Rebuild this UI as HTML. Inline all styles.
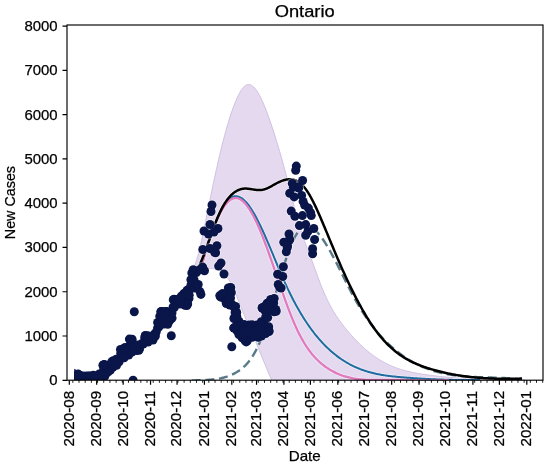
<!DOCTYPE html>
<html><head><meta charset="utf-8"><style>
html,body{margin:0;padding:0;background:#fff;width:550px;height:469px;overflow:hidden}
svg{position:absolute;left:0;top:0;will-change:transform}
text{font-family:"Liberation Sans", sans-serif;fill:#000;stroke:#000;stroke-width:0.25px}
</style></head><body>
<svg width="550" height="469" viewBox="0 0 550 469">
<defs><clipPath id="ax"><rect x="67.0" y="25.0" width="476.0" height="355.2"/></clipPath><clipPath id="dc"><rect x="74.1" y="25" width="470" height="355.2"/></clipPath></defs>

<g clip-path="url(#ax)">
<path d="M192.60,268.67 L193.60,267.27 L194.60,265.33 L195.60,262.91 L196.60,260.04 L197.61,256.76 L198.61,253.12 L199.61,249.17 L200.61,244.94 L201.61,240.48 L202.61,235.84 L203.61,231.04 L204.61,226.15 L205.62,221.20 L206.62,216.23 L207.62,211.28 L208.62,206.36 L209.62,201.46 L210.62,196.59 L211.62,191.76 L212.62,186.98 L213.63,182.26 L214.63,177.58 L215.63,172.98 L216.63,168.44 L217.63,163.98 L218.63,159.60 L219.63,155.30 L220.63,151.10 L221.63,147.00 L222.64,143.00 L223.64,139.11 L224.64,135.33 L225.64,131.66 L226.64,128.10 L227.64,124.65 L228.64,121.32 L229.64,118.11 L230.65,115.01 L231.65,112.03 L232.65,109.17 L233.65,106.44 L234.65,103.84 L235.65,101.37 L236.65,99.03 L237.65,96.82 L238.66,94.77 L239.66,92.87 L240.66,91.14 L241.66,89.59 L242.66,88.23 L243.66,87.06 L244.66,86.11 L245.66,85.37 L246.67,84.85 L247.67,84.56 L248.67,84.47 L249.67,84.59 L250.67,84.92 L251.67,85.43 L252.67,86.13 L253.67,87.01 L254.67,88.06 L255.68,89.28 L256.68,90.66 L257.68,92.19 L258.68,93.86 L259.68,95.68 L260.68,97.63 L261.68,99.70 L262.68,101.90 L263.69,104.21 L264.69,106.62 L265.69,109.14 L266.69,111.75 L267.69,114.44 L268.69,117.22 L269.69,120.07 L270.69,122.98 L271.70,125.96 L272.70,129.00 L273.70,132.10 L274.70,135.24 L275.70,138.43 L276.70,141.67 L277.70,144.95 L278.70,148.29 L279.70,151.68 L280.71,155.13 L281.71,158.63 L282.71,162.20 L283.71,165.82 L284.71,169.52 L285.71,173.27 L286.71,177.10 L287.71,181.00 L288.72,184.94 L289.72,188.91 L290.72,192.90 L291.72,196.89 L292.72,200.86 L293.72,204.79 L294.72,208.68 L295.72,212.49 L296.73,216.21 L297.73,219.83 L298.73,223.33 L299.73,226.70 L300.73,229.92 L301.73,233.01 L302.73,235.98 L303.73,238.86 L304.73,241.66 L305.74,244.39 L306.74,247.06 L307.74,249.71 L308.74,252.34 L309.74,254.96 L310.74,257.60 L311.74,260.27 L312.74,262.97 L313.75,265.71 L314.75,268.45 L315.75,271.20 L316.75,273.94 L317.75,276.67 L318.75,279.36 L319.75,282.02 L320.75,284.62 L321.76,287.16 L322.76,289.63 L323.76,292.01 L324.76,294.31 L325.76,296.53 L326.76,298.68 L327.76,300.75 L328.76,302.75 L329.77,304.68 L330.77,306.55 L331.77,308.36 L332.77,310.10 L333.77,311.79 L334.77,313.43 L335.77,315.01 L336.77,316.55 L337.77,318.04 L338.78,319.49 L339.78,320.91 L340.78,322.28 L341.78,323.63 L342.78,324.94 L343.78,326.22 L344.78,327.48 L345.78,328.72 L346.79,329.94 L347.79,331.14 L348.79,332.33 L349.79,333.49 L350.79,334.63 L351.79,335.76 L352.79,336.86 L353.79,337.95 L354.80,339.02 L355.80,340.07 L356.80,341.10 L357.80,342.12 L358.80,343.11 L359.80,344.09 L360.80,345.05 L361.80,345.99 L362.80,346.91 L363.81,347.82 L364.81,348.70 L365.81,349.57 L366.81,350.42 L367.81,351.25 L368.81,352.07 L369.81,352.87 L370.81,353.65 L371.82,354.41 L372.82,355.16 L373.82,355.89 L374.82,356.60 L375.82,357.29 L376.82,357.97 L377.82,358.63 L378.82,359.27 L379.83,359.90 L380.83,360.51 L381.83,361.10 L382.83,361.68 L383.83,362.23 L384.83,362.78 L385.83,363.30 L386.83,363.81 L387.83,364.31 L388.84,364.79 L389.84,365.25 L390.84,365.70 L391.84,366.13 L392.84,366.55 L393.84,366.95 L394.84,367.34 L395.84,367.72 L396.85,368.08 L397.85,368.43 L398.85,368.77 L399.85,369.10 L400.85,369.42 L401.85,369.72 L402.85,370.02 L403.85,370.30 L404.86,370.57 L405.86,370.84 L406.86,371.09 L407.86,371.34 L408.86,371.58 L409.86,371.80 L410.86,372.02 L411.86,372.24 L412.87,372.44 L413.87,372.64 L414.87,372.84 L415.87,373.02 L416.87,373.20 L417.87,373.38 L418.87,373.55 L419.87,373.71 L420.87,373.88 L421.88,374.03 L422.88,374.19 L423.88,374.34 L424.88,374.48 L425.88,374.63 L426.88,374.77 L427.88,374.91 L428.88,375.05 L429.89,375.18 L430.89,375.31 L431.89,375.44 L432.89,375.57 L433.89,375.70 L434.89,375.82 L435.89,375.94 L436.89,376.05 L437.90,376.17 L438.90,376.28 L439.90,376.39 L440.90,376.50 L441.90,376.61 L442.90,376.71 L443.90,376.81 L444.90,376.91 L445.90,377.01 L446.91,377.10 L447.91,377.20 L448.91,377.29 L449.91,377.38 L450.91,377.46 L451.91,377.55 L452.91,377.63 L453.91,377.71 L454.92,377.79 L455.92,377.87 L456.92,377.95 L457.92,378.02 L458.92,378.09 L459.92,378.16 L460.92,378.23 L461.92,378.30 L462.93,378.36 L463.93,378.42 L464.93,378.49 L465.93,378.55 L466.93,378.61 L467.93,378.66 L468.93,378.72 L469.93,378.77 L470.93,378.82 L471.94,378.88 L472.94,378.92 L473.94,378.97 L474.94,379.02 L475.94,379.07 L476.94,379.11 L477.94,379.15 L478.94,379.19 L479.95,379.23 L480.95,379.27 L481.95,379.31 L482.95,379.35 L483.95,379.38 L484.95,379.42 L485.95,379.45 L486.95,379.48 L487.96,379.52 L488.96,379.55 L489.96,379.57 L490.96,379.60 L491.96,379.63 L492.96,379.66 L493.96,379.68 L494.96,379.71 L495.97,379.73 L496.97,379.76 L497.97,379.78 L498.97,379.80 L499.97,379.82 L500.97,379.84 L501.97,379.86 L502.97,379.88 L503.97,379.90 L504.98,379.92 L505.98,379.93 L506.98,379.95 L507.98,379.97 L508.98,379.98 L509.98,380.00 L510.98,380.01 L511.98,380.03 L512.99,380.04 L513.99,380.05 L514.99,380.07 L515.99,380.08 L516.99,380.09 L517.99,380.11 L518.99,380.12 L519.99,380.13 L521.00,380.14 L522.00,380.15 L523.00,380.17 L524.00,380.18 L525.00,380.19 L272.00,380.68 L270.99,378.49 L269.99,376.24 L268.98,373.93 L267.98,371.59 L266.97,369.20 L265.97,366.79 L264.96,364.35 L263.96,361.89 L262.95,359.42 L261.95,356.95 L260.94,354.47 L259.94,352.01 L258.93,349.55 L257.93,347.12 L256.92,344.71 L255.92,342.33 L254.91,339.98 L253.91,337.64 L252.90,335.31 L251.90,333.00 L250.89,330.68 L249.89,328.37 L248.88,326.05 L247.88,323.73 L246.87,321.38 L245.87,319.02 L244.86,316.64 L243.86,314.23 L242.85,311.78 L241.85,309.30 L240.84,306.77 L239.84,304.20 L238.83,301.60 L237.83,299.00 L236.82,296.43 L235.82,293.92 L234.81,291.49 L233.81,289.17 L232.80,286.99 L231.80,284.96 L230.79,283.10 L229.79,281.38 L228.78,279.80 L227.78,278.37 L226.77,277.06 L225.77,275.87 L224.76,274.80 L223.76,273.83 L222.75,272.97 L221.75,272.20 L220.74,271.53 L219.74,270.93 L218.73,270.41 L217.73,269.97 L216.72,269.59 L215.72,269.28 L214.71,269.02 L213.71,268.82 L212.70,268.67 L211.70,268.57 L210.69,268.50 L209.69,268.47 L208.68,268.48 L207.68,268.51 L206.67,268.56 L205.67,268.63 L204.66,268.71 L203.66,268.80 L202.65,268.89 L201.65,268.98 L200.64,269.07 L199.64,269.15 L198.63,269.21 L197.63,269.25 L196.62,269.27 L195.62,269.26 L194.61,269.21 L193.61,269.13 L192.60,269.00 Z" fill="#e4d9ee" stroke="#cfc0e2" stroke-width="1.00"/>
<g opacity="0.45" fill="none" stroke="#fff">
<path d="M200.50,269.46 L201.50,265.81 L202.50,262.22 L203.51,258.68 L204.51,255.20 L205.51,251.79 L206.51,248.45 L207.51,245.18 L208.51,241.99 L209.52,238.87 L210.52,235.84 L211.52,232.90 L212.52,230.05 L213.52,227.30 L214.53,224.64 L215.53,222.08 L216.53,219.63 L217.53,217.29 L218.53,215.07 L219.53,212.96 L220.54,210.97 L221.54,209.09 L222.54,207.34 L223.54,205.71 L224.54,204.21 L225.54,202.83 L226.55,201.58 L227.55,200.45 L228.55,199.46 L229.55,198.59 L230.55,197.86 L231.56,197.26 L232.56,196.79 L233.56,196.46 L234.56,196.25 L235.56,196.18 L236.56,196.22 L237.57,196.38 L238.57,196.66 L239.57,197.06 L240.57,197.56 L241.57,198.17 L242.58,198.89 L243.58,199.71 L244.58,200.63 L245.58,201.64 L246.58,202.75 L247.58,203.94 L248.59,205.22 L249.59,206.59 L250.59,208.03 L251.59,209.56 L252.59,211.16 L253.59,212.82 L254.60,214.56 L255.60,216.36 L256.60,218.23 L257.60,220.15 L258.60,222.13 L259.61,224.16 L260.61,226.23 L261.61,228.36 L262.61,230.52 L263.61,232.72 L264.61,234.96 L265.62,237.23 L266.62,239.53 L267.62,241.85 L268.62,244.20 L269.62,246.56 L270.63,248.94 L271.63,251.34 L272.63,253.74 L273.63,256.15 L274.63,258.55 L275.63,260.96 L276.64,263.37 L277.64,265.76 L278.64,268.15 L279.64,270.52 L280.64,272.87 L281.65,275.21 L282.65,277.51 L283.65,279.80 L284.65,282.05 L285.65,284.26 L286.65,286.44 L287.66,288.58 L288.66,290.69 L289.66,292.76 L290.66,294.79 L291.66,296.79 L292.66,298.75 L293.67,300.68 L294.67,302.58 L295.67,304.43 L296.67,306.26 L297.67,308.05 L298.68,309.81 L299.68,311.54 L300.68,313.23 L301.68,314.89 L302.68,316.53 L303.68,318.13 L304.69,319.69 L305.69,321.23 L306.69,322.74 L307.69,324.22 L308.69,325.67 L309.70,327.09 L310.70,328.48 L311.70,329.85 L312.70,331.18 L313.70,332.49 L314.70,333.77 L315.71,335.03 L316.71,336.25 L317.71,337.46 L318.71,338.63 L319.71,339.79 L320.72,340.91 L321.72,342.02 L322.72,343.09 L323.72,344.15 L324.72,345.18 L325.72,346.19 L326.73,347.17 L327.73,348.14 L328.73,349.08 L329.73,350.00 L330.73,350.90 L331.73,351.78 L332.74,352.63 L333.74,353.47 L334.74,354.29 L335.74,355.08 L336.74,355.86 L337.75,356.62 L338.75,357.36 L339.75,358.08 L340.75,358.78 L341.75,359.46 L342.75,360.12 L343.76,360.77 L344.76,361.40 L345.76,362.01 L346.76,362.61 L347.76,363.19 L348.77,363.75 L349.77,364.30 L350.77,364.83 L351.77,365.34 L352.77,365.84 L353.77,366.32 L354.78,366.79 L355.78,367.25 L356.78,367.69 L357.78,368.12 L358.78,368.53 L359.78,368.93 L360.79,369.32 L361.79,369.69 L362.79,370.05 L363.79,370.40 L364.79,370.74 L365.80,371.06 L366.80,371.38 L367.80,371.68 L368.80,371.97 L369.80,372.25 L370.80,372.52 L371.81,372.79 L372.81,373.04 L373.81,373.28 L374.81,373.51 L375.81,373.73 L376.82,373.95 L377.82,374.15 L378.82,374.35 L379.82,374.54 L380.82,374.72 L381.82,374.89 L382.83,375.06 L383.83,375.22 L384.83,375.37 L385.83,375.52 L386.83,375.66 L387.84,375.80 L388.84,375.93 L389.84,376.05 L390.84,376.17 L391.84,376.29 L392.84,376.40 L393.85,376.51 L394.85,376.61 L395.85,376.71 L396.85,376.80 L397.85,376.90 L398.85,376.99 L399.86,377.07 L400.86,377.16 L401.86,377.24 L402.86,377.32 L403.86,377.40 L404.87,377.48 L405.87,377.56 L406.87,377.64 L407.87,377.71 L408.87,377.79 L409.87,377.86 L410.88,377.93 L411.88,378.00 L412.88,378.07 L413.88,378.14 L414.88,378.21 L415.89,378.28 L416.89,378.34 L417.89,378.41 L418.89,378.47 L419.89,378.53 L420.89,378.59 L421.90,378.65 L422.90,378.71 L423.90,378.77 L424.90,378.82 L425.90,378.88 L426.91,378.93 L427.91,378.98 L428.91,379.03 L429.91,379.08 L430.91,379.13 L431.91,379.18 L432.92,379.23 L433.92,379.27 L434.92,379.31 L435.92,379.36 L436.92,379.40 L437.92,379.44 L438.93,379.48 L439.93,379.51 L440.93,379.55 L441.93,379.58 L442.93,379.62 L443.94,379.65 L444.94,379.68 L445.94,379.71 L446.94,379.74 L447.94,379.77 L448.94,379.79 L449.95,379.82 L450.95,379.84 L451.95,379.86 L452.95,379.88 L453.95,379.90 L454.96,379.92 L455.96,379.94 L456.96,379.95 L457.96,379.97 L458.96,379.98 L459.96,379.99 L460.97,380.00 L461.97,380.01 L462.97,380.02 L463.97,380.02 L464.97,380.03 L465.97,380.03 L466.98,380.03 L467.98,380.03 L468.98,380.03 L469.98,380.03 L470.98,380.02 L471.99,380.02 L472.99,380.01 L473.99,380.01 L474.99,380.00 L475.99,379.98 L476.99,379.97 L478.00,379.96 L479.00,379.94 L480.00,379.93" stroke-width="3.60"/>
<path d="M200.50,269.81 L201.50,266.10 L202.50,262.46 L203.51,258.91 L204.51,255.44 L205.51,252.05 L206.51,248.75 L207.51,245.54 L208.52,242.41 L209.52,239.38 L210.52,236.44 L211.52,233.59 L212.52,230.84 L213.53,228.19 L214.53,225.64 L215.53,223.18 L216.53,220.83 L217.53,218.59 L218.54,216.45 L219.54,214.42 L220.54,212.50 L221.54,210.69 L222.54,208.99 L223.55,207.41 L224.55,205.94 L225.55,204.59 L226.55,203.37 L227.55,202.26 L228.56,201.28 L229.56,200.42 L230.56,199.69 L231.56,199.09 L232.56,198.62 L233.57,198.28 L234.57,198.07 L235.57,198.00 L236.57,198.05 L237.57,198.24 L238.58,198.55 L239.58,198.99 L240.58,199.54 L241.58,200.21 L242.58,201.00 L243.59,201.90 L244.59,202.91 L245.59,204.02 L246.59,205.24 L247.59,206.56 L248.60,207.98 L249.60,209.50 L250.60,211.10 L251.60,212.80 L252.60,214.59 L253.61,216.46 L254.61,218.41 L255.61,220.44 L256.61,222.55 L257.61,224.73 L258.62,226.99 L259.62,229.31 L260.62,231.70 L261.62,234.15 L262.62,236.65 L263.63,239.21 L264.63,241.82 L265.63,244.48 L266.63,247.18 L267.64,249.92 L268.64,252.69 L269.64,255.49 L270.64,258.32 L271.64,261.17 L272.65,264.05 L273.65,266.93 L274.65,269.83 L275.65,272.74 L276.65,275.65 L277.66,278.56 L278.66,281.47 L279.66,284.37 L280.66,287.25 L281.66,290.13 L282.67,292.98 L283.67,295.81 L284.67,298.61 L285.67,301.39 L286.67,304.12 L287.68,306.82 L288.68,309.48 L289.68,312.09 L290.68,314.66 L291.68,317.16 L292.69,319.62 L293.69,322.01 L294.69,324.33 L295.69,326.59 L296.69,328.77 L297.70,330.88 L298.70,332.92 L299.70,334.89 L300.70,336.79 L301.70,338.62 L302.71,340.39 L303.71,342.10 L304.71,343.75 L305.71,345.33 L306.71,346.86 L307.72,348.33 L308.72,349.74 L309.72,351.11 L310.72,352.42 L311.72,353.68 L312.73,354.89 L313.73,356.05 L314.73,357.17 L315.73,358.25 L316.73,359.28 L317.74,360.27 L318.74,361.22 L319.74,362.14 L320.74,363.02 L321.74,363.87 L322.75,364.68 L323.75,365.47 L324.75,366.22 L325.75,366.95 L326.75,367.65 L327.76,368.32 L328.76,368.97 L329.76,369.60 L330.76,370.20 L331.76,370.78 L332.77,371.34 L333.77,371.87 L334.77,372.38 L335.77,372.87 L336.77,373.34 L337.78,373.79 L338.78,374.22 L339.78,374.63 L340.78,375.01 L341.78,375.38 L342.79,375.74 L343.79,376.07 L344.79,376.39 L345.79,376.69 L346.79,376.97 L347.80,377.23 L348.80,377.48 L349.80,377.72 L350.80,377.94 L351.80,378.15 L352.81,378.34 L353.81,378.52 L354.81,378.68 L355.81,378.84 L356.81,378.98 L357.82,379.11 L358.82,379.23 L359.82,379.33 L360.82,379.43 L361.82,379.52 L362.83,379.60 L363.83,379.67 L364.83,379.73 L365.83,379.78 L366.83,379.83 L367.84,379.87 L368.84,379.90 L369.84,379.92 L370.84,379.94 L371.84,379.96 L372.85,379.97 L373.85,379.97 L374.85,379.97 L375.85,379.97 L376.85,379.97 L377.86,379.96 L378.86,379.95 L379.86,379.94 L380.86,379.92 L381.86,379.91 L382.87,379.90 L383.87,379.88 L384.87,379.87 L385.87,379.86 L386.88,379.85 L387.88,379.84 L388.88,379.83 L389.88,379.83 L390.88,379.83 L391.89,379.83 L392.89,379.84 L393.89,379.84 L394.89,379.85 L395.89,379.86 L396.90,379.88 L397.90,379.89 L398.90,379.91 L399.90,379.93 L400.90,379.95 L401.91,379.97 L402.91,379.99 L403.91,380.02 L404.91,380.04 L405.91,380.07 L406.92,380.09 L407.92,380.12 L408.92,380.14 L409.92,380.17 L410.92,380.20 L411.93,380.23 L412.93,380.25 L413.93,380.28 L414.93,380.31 L415.93,380.33 L416.94,380.36 L417.94,380.38 L418.94,380.40 L419.94,380.42 L420.94,380.44 L421.95,380.46 L422.95,380.48 L423.95,380.50 L424.95,380.51 L425.95,380.52 L426.96,380.53 L427.96,380.54 L428.96,380.55 L429.96,380.55 L430.96,380.55 L431.97,380.55 L432.97,380.54 L433.97,380.53 L434.97,380.52 L435.97,380.51 L436.98,380.49 L437.98,380.47 L438.98,380.44 L439.98,380.41 L440.98,380.38 L441.99,380.34 L442.99,380.30 L443.99,380.26 L444.99,380.21 L445.99,380.15 L447.00,380.09 L448.00,380.03 L449.00,379.96" stroke-width="3.90"/>
<path d="M198.50,267.69 L199.50,265.51 L200.50,263.21 L201.50,260.80 L202.51,258.30 L203.51,255.72 L204.51,253.07 L205.51,250.37 L206.51,247.62 L207.51,244.83 L208.52,242.03 L209.52,239.21 L210.52,236.40 L211.52,233.61 L212.52,230.84 L213.52,228.11 L214.52,225.43 L215.53,222.82 L216.53,220.28 L217.53,217.82 L218.53,215.47 L219.53,213.22 L220.53,211.10 L221.54,209.09 L222.54,207.19 L223.54,205.40 L224.54,203.72 L225.54,202.14 L226.54,200.67 L227.54,199.29 L228.55,198.02 L229.55,196.83 L230.55,195.74 L231.55,194.74 L232.55,193.82 L233.55,192.99 L234.56,192.24 L235.56,191.57 L236.56,190.97 L237.56,190.45 L238.56,190.00 L239.56,189.61 L240.57,189.29 L241.57,189.04 L242.57,188.84 L243.57,188.70 L244.57,188.62 L245.57,188.59 L246.57,188.61 L247.58,188.67 L248.58,188.77 L249.58,188.89 L250.58,189.04 L251.58,189.20 L252.58,189.36 L253.59,189.53 L254.59,189.68 L255.59,189.82 L256.59,189.94 L257.59,190.03 L258.59,190.08 L259.59,190.09 L260.60,190.05 L261.60,189.94 L262.60,189.78 L263.60,189.54 L264.60,189.25 L265.60,188.90 L266.61,188.51 L267.61,188.07 L268.61,187.60 L269.61,187.10 L270.61,186.58 L271.61,186.03 L272.61,185.48 L273.62,184.92 L274.62,184.36 L275.62,183.81 L276.62,183.27 L277.62,182.75 L278.62,182.25 L279.63,181.78 L280.63,181.34 L281.63,180.93 L282.63,180.56 L283.63,180.24 L284.63,179.95 L285.63,179.71 L286.64,179.52 L287.64,179.38 L288.64,179.30 L289.64,179.27 L290.64,179.30 L291.64,179.40 L292.65,179.56 L293.65,179.80 L294.65,180.10 L295.65,180.48 L296.65,180.94 L297.65,181.48 L298.65,182.10 L299.66,182.81 L300.66,183.61 L301.66,184.50 L302.66,185.49 L303.66,186.58 L304.66,187.76 L305.67,189.06 L306.67,190.45 L307.67,191.95 L308.67,193.55 L309.67,195.23 L310.67,197.00 L311.67,198.84 L312.68,200.76 L313.68,202.75 L314.68,204.80 L315.68,206.91 L316.68,209.07 L317.68,211.27 L318.69,213.52 L319.69,215.80 L320.69,218.11 L321.69,220.45 L322.69,222.80 L323.69,225.18 L324.70,227.56 L325.70,229.96 L326.70,232.36 L327.70,234.78 L328.70,237.19 L329.70,239.61 L330.70,242.03 L331.71,244.44 L332.71,246.85 L333.71,249.25 L334.71,251.63 L335.71,254.01 L336.71,256.37 L337.72,258.71 L338.72,261.04 L339.72,263.34 L340.72,265.63 L341.72,267.89 L342.72,270.14 L343.72,272.36 L344.73,274.57 L345.73,276.75 L346.73,278.91 L347.73,281.05 L348.73,283.17 L349.73,285.27 L350.74,287.34 L351.74,289.39 L352.74,291.41 L353.74,293.41 L354.74,295.38 L355.74,297.33 L356.74,299.26 L357.75,301.16 L358.75,303.03 L359.75,304.88 L360.75,306.70 L361.75,308.49 L362.75,310.25 L363.76,311.99 L364.76,313.70 L365.76,315.38 L366.76,317.03 L367.76,318.65 L368.76,320.24 L369.76,321.80 L370.77,323.33 L371.77,324.82 L372.77,326.29 L373.77,327.73 L374.77,329.13 L375.77,330.50 L376.78,331.84 L377.78,333.14 L378.78,334.41 L379.78,335.66 L380.78,336.87 L381.78,338.05 L382.78,339.20 L383.79,340.32 L384.79,341.41 L385.79,342.48 L386.79,343.51 L387.79,344.52 L388.79,345.50 L389.80,346.46 L390.80,347.39 L391.80,348.29 L392.80,349.17 L393.80,350.02 L394.80,350.85 L395.80,351.66 L396.81,352.45 L397.81,353.21 L398.81,353.95 L399.81,354.67 L400.81,355.37 L401.81,356.04 L402.82,356.70 L403.82,357.34 L404.82,357.96 L405.82,358.56 L406.82,359.14 L407.82,359.71 L408.83,360.26 L409.83,360.79 L410.83,361.31 L411.83,361.81 L412.83,362.30 L413.83,362.77 L414.83,363.23 L415.84,363.67 L416.84,364.10 L417.84,364.52 L418.84,364.93 L419.84,365.33 L420.84,365.71 L421.85,366.09 L422.85,366.45 L423.85,366.81 L424.85,367.16 L425.85,367.49 L426.85,367.83 L427.85,368.15 L428.86,368.47 L429.86,368.78 L430.86,369.08 L431.86,369.38 L432.86,369.67 L433.86,369.96 L434.87,370.24 L435.87,370.52 L436.87,370.79 L437.87,371.05 L438.87,371.31 L439.87,371.57 L440.87,371.82 L441.88,372.06 L442.88,372.30 L443.88,372.53 L444.88,372.76 L445.88,372.98 L446.88,373.20 L447.89,373.42 L448.89,373.62 L449.89,373.83 L450.89,374.03 L451.89,374.22 L452.89,374.41 L453.89,374.59 L454.90,374.77 L455.90,374.95 L456.90,375.12 L457.90,375.28 L458.90,375.44 L459.90,375.60 L460.91,375.75 L461.91,375.90 L462.91,376.04 L463.91,376.18 L464.91,376.32 L465.91,376.45 L466.91,376.58 L467.92,376.70 L468.92,376.82 L469.92,376.93 L470.92,377.04 L471.92,377.15 L472.92,377.25 L473.93,377.35 L474.93,377.45 L475.93,377.54 L476.93,377.63 L477.93,377.71 L478.93,377.79 L479.93,377.87 L480.94,377.95 L481.94,378.02 L482.94,378.08 L483.94,378.15 L484.94,378.21 L485.94,378.26 L486.95,378.32 L487.95,378.37 L488.95,378.42 L489.95,378.46 L490.95,378.50 L491.95,378.54 L492.96,378.58 L493.96,378.61 L494.96,378.64 L495.96,378.67 L496.96,378.69 L497.96,378.72 L498.96,378.73 L499.97,378.75 L500.97,378.77 L501.97,378.78 L502.97,378.79 L503.97,378.79 L504.97,378.80 L505.98,378.80 L506.98,378.80 L507.98,378.80 L508.98,378.79 L509.98,378.79 L510.98,378.78 L511.98,378.77 L512.99,378.75 L513.99,378.74 L514.99,378.72 L515.99,378.70 L516.99,378.68 L517.99,378.66 L519.00,378.64 L520.00,378.61 L521.00,378.58 L522.00,378.55" stroke-width="4.10"/>
</g>
<path d="M190.00,380.72 L191.00,380.64 L192.00,380.58 L193.00,380.51 L194.00,380.46 L195.00,380.41 L196.00,380.36 L197.00,380.32 L198.00,380.28 L199.00,380.24 L200.00,380.21 L201.00,380.17 L202.00,380.13 L203.00,380.09 L204.00,380.05 L205.00,380.01 L206.00,379.96 L207.00,379.91 L208.00,379.85 L209.00,379.78 L210.00,379.71 L211.00,379.63 L212.00,379.54 L213.00,379.44 L214.00,379.33 L215.00,379.21 L216.00,379.08 L217.00,378.93 L218.00,378.77 L219.00,378.59 L220.00,378.40 L221.00,378.20 L222.00,377.97 L223.00,377.73 L224.00,377.47 L225.00,377.18 L226.00,376.88 L227.00,376.56 L228.00,376.21 L229.00,375.85 L230.00,375.45 L231.00,375.04 L232.00,374.59 L233.00,374.12 L234.00,373.63 L235.00,373.10 L236.00,372.55 L237.00,371.97 L238.00,371.35 L239.00,370.70 L240.00,370.00 L241.00,369.26 L242.00,368.47 L243.00,367.63 L244.00,366.74 L245.00,365.78 L246.00,364.77 L247.00,363.68 L248.00,362.53 L249.00,361.30 L250.00,359.99 L251.00,358.60 L252.00,357.13 L253.00,355.56 L254.00,353.91 L255.00,352.15 L256.00,350.30 L257.00,348.34 L258.00,346.28 L259.00,344.10 L260.00,341.81 L261.00,339.40 L262.00,336.87 L263.00,334.21 L264.00,331.44 L265.00,328.56 L266.00,325.58 L267.00,322.51 L268.00,319.35 L269.00,316.13 L270.00,312.84 L271.00,309.50 L272.00,306.12 L273.00,302.70 L274.00,299.25 L275.00,295.79 L276.00,292.31 L277.00,288.84 L278.00,285.38 L279.00,281.93 L280.00,278.52 L281.00,275.14 L282.00,271.80 L283.00,268.52 L284.00,265.31 L285.00,262.17 L286.00,259.11 L287.00,256.14 L288.00,253.27 L289.00,250.51 L290.00,247.87 L291.00,245.35 L292.00,242.98 L293.00,240.75 L294.00,238.67 L295.00,236.75 L296.00,235.01 L297.00,233.44 L298.00,232.05 L299.00,230.81 L300.00,229.74 L301.00,228.82 L302.00,228.06 L303.00,227.44 L304.00,226.97 L305.00,226.64 L306.00,226.44 L307.00,226.37 L308.00,226.43 L309.00,226.61 L310.00,226.90 L311.00,227.32 L312.00,227.84 L313.00,228.46 L314.00,229.18 L315.00,230.01 L316.00,230.92 L317.00,231.92 L318.00,233.00 L319.00,234.17 L320.00,235.40 L321.00,236.71 L322.00,238.08 L323.00,239.52 L324.00,241.01 L325.00,242.55 L326.00,244.15 L327.00,245.78 L328.00,247.46 L329.00,249.18 L330.00,250.94 L331.00,252.73 L332.00,254.55 L333.00,256.40 L334.00,258.28 L335.00,260.18 L336.00,262.10 L337.00,264.04 L338.00,266.00 L339.00,267.96 L340.00,269.94 L341.00,271.93 L342.00,273.92 L343.00,275.92 L344.00,277.91 L345.00,279.91 L346.00,281.89 L347.00,283.87 L348.00,285.84 L349.00,287.80 L350.00,289.74 L351.00,291.67 L352.00,293.57 L353.00,295.45 L354.00,297.30 L355.00,299.12 L356.00,300.92 L357.00,302.68 L358.00,304.41 L359.00,306.11 L360.00,307.78 L361.00,309.41 L362.00,311.02 L363.00,312.60 L364.00,314.15 L365.00,315.67 L366.00,317.16 L367.00,318.62 L368.00,320.06 L369.00,321.46 L370.00,322.85 L371.00,324.20 L372.00,325.53 L373.00,326.83 L374.00,328.11 L375.00,329.36 L376.00,330.59 L377.00,331.80 L378.00,332.98 L379.00,334.14 L380.00,335.27 L381.00,336.38 L382.00,337.48 L383.00,338.54 L384.00,339.59 L385.00,340.62 L386.00,341.62 L387.00,342.61 L388.00,343.58 L389.00,344.53 L390.00,345.45 L391.00,346.36 L392.00,347.26 L393.00,348.13 L394.00,348.99 L395.00,349.83 L396.00,350.65 L397.00,351.45 L398.00,352.24 L399.00,353.01 L400.00,353.77 L401.00,354.51 L402.00,355.23 L403.00,355.94 L404.00,356.63 L405.00,357.31 L406.00,357.97 L407.00,358.61 L408.00,359.24 L409.00,359.86 L410.00,360.46 L411.00,361.05 L412.00,361.62 L413.00,362.18 L414.00,362.72 L415.00,363.25 L416.00,363.77 L417.00,364.27 L418.00,364.76 L419.00,365.24 L420.00,365.71 L421.00,366.16 L422.00,366.60 L423.00,367.03 L424.00,367.44 L425.00,367.85 L426.00,368.24 L427.00,368.62 L428.00,368.99 L429.00,369.35 L430.00,369.70 L431.00,370.04 L432.00,370.36 L433.00,370.68 L434.00,370.98 L435.00,371.28 L436.00,371.57 L437.00,371.84 L438.00,372.11 L439.00,372.37 L440.00,372.62 L441.00,372.86 L442.00,373.09 L443.00,373.31 L444.00,373.52 L445.00,373.73 L446.00,373.93 L447.00,374.12 L448.00,374.30 L449.00,374.48 L450.00,374.64 L451.00,374.80 L452.00,374.96 L453.00,375.10 L454.00,375.25 L455.00,375.38 L456.00,375.51 L457.00,375.63 L458.00,375.75 L459.00,375.86 L460.00,375.96 L461.00,376.06 L462.00,376.16 L463.00,376.25 L464.00,376.33 L465.00,376.41 L466.00,376.49 L467.00,376.56 L468.00,376.63 L469.00,376.70 L470.00,376.76 L471.00,376.82 L472.00,376.87 L473.00,376.92 L474.00,376.97 L475.00,377.02 L476.00,377.06 L477.00,377.10 L478.00,377.14 L479.00,377.18 L480.00,377.21 L481.00,377.25 L482.00,377.28 L483.00,377.31 L484.00,377.34 L485.00,377.37 L486.00,377.40 L487.00,377.43 L488.00,377.46 L489.00,377.49 L490.00,377.51 L491.00,377.54 L492.00,377.57 L493.00,377.60 L494.00,377.63 L495.00,377.66 L496.00,377.70 L497.00,377.73 L498.00,377.76 L499.00,377.80 L500.00,377.84 L501.00,377.88 L502.00,377.93 L503.00,377.97 L504.00,378.02 L505.00,378.07 L506.00,378.13 L507.00,378.18 L508.00,378.25 L509.00,378.31 L510.00,378.38 L511.00,378.45 L512.00,378.53 L513.00,378.61 L514.00,378.69 L515.00,378.78 L516.00,378.88 L517.00,378.98 L518.00,379.08 L519.00,379.19 L520.00,379.31 L521.00,379.43 L522.00,379.56" fill="none" stroke="#587a88" stroke-width="2.40" stroke-dasharray="9 4.7" stroke-dashoffset="12.00"/>
<path d="M200.50,269.46 L201.50,265.81 L202.50,262.22 L203.51,258.68 L204.51,255.20 L205.51,251.79 L206.51,248.45 L207.51,245.18 L208.51,241.99 L209.52,238.87 L210.52,235.84 L211.52,232.90 L212.52,230.05 L213.52,227.30 L214.53,224.64 L215.53,222.08 L216.53,219.63 L217.53,217.29 L218.53,215.07 L219.53,212.96 L220.54,210.97 L221.54,209.09 L222.54,207.34 L223.54,205.71 L224.54,204.21 L225.54,202.83 L226.55,201.58 L227.55,200.45 L228.55,199.46 L229.55,198.59 L230.55,197.86 L231.56,197.26 L232.56,196.79 L233.56,196.46 L234.56,196.25 L235.56,196.18 L236.56,196.22 L237.57,196.38 L238.57,196.66 L239.57,197.06 L240.57,197.56 L241.57,198.17 L242.58,198.89 L243.58,199.71 L244.58,200.63 L245.58,201.64 L246.58,202.75 L247.58,203.94 L248.59,205.22 L249.59,206.59 L250.59,208.03 L251.59,209.56 L252.59,211.16 L253.59,212.82 L254.60,214.56 L255.60,216.36 L256.60,218.23 L257.60,220.15 L258.60,222.13 L259.61,224.16 L260.61,226.23 L261.61,228.36 L262.61,230.52 L263.61,232.72 L264.61,234.96 L265.62,237.23 L266.62,239.53 L267.62,241.85 L268.62,244.20 L269.62,246.56 L270.63,248.94 L271.63,251.34 L272.63,253.74 L273.63,256.15 L274.63,258.55 L275.63,260.96 L276.64,263.37 L277.64,265.76 L278.64,268.15 L279.64,270.52 L280.64,272.87 L281.65,275.21 L282.65,277.51 L283.65,279.80 L284.65,282.05 L285.65,284.26 L286.65,286.44 L287.66,288.58 L288.66,290.69 L289.66,292.76 L290.66,294.79 L291.66,296.79 L292.66,298.75 L293.67,300.68 L294.67,302.58 L295.67,304.43 L296.67,306.26 L297.67,308.05 L298.68,309.81 L299.68,311.54 L300.68,313.23 L301.68,314.89 L302.68,316.53 L303.68,318.13 L304.69,319.69 L305.69,321.23 L306.69,322.74 L307.69,324.22 L308.69,325.67 L309.70,327.09 L310.70,328.48 L311.70,329.85 L312.70,331.18 L313.70,332.49 L314.70,333.77 L315.71,335.03 L316.71,336.25 L317.71,337.46 L318.71,338.63 L319.71,339.79 L320.72,340.91 L321.72,342.02 L322.72,343.09 L323.72,344.15 L324.72,345.18 L325.72,346.19 L326.73,347.17 L327.73,348.14 L328.73,349.08 L329.73,350.00 L330.73,350.90 L331.73,351.78 L332.74,352.63 L333.74,353.47 L334.74,354.29 L335.74,355.08 L336.74,355.86 L337.75,356.62 L338.75,357.36 L339.75,358.08 L340.75,358.78 L341.75,359.46 L342.75,360.12 L343.76,360.77 L344.76,361.40 L345.76,362.01 L346.76,362.61 L347.76,363.19 L348.77,363.75 L349.77,364.30 L350.77,364.83 L351.77,365.34 L352.77,365.84 L353.77,366.32 L354.78,366.79 L355.78,367.25 L356.78,367.69 L357.78,368.12 L358.78,368.53 L359.78,368.93 L360.79,369.32 L361.79,369.69 L362.79,370.05 L363.79,370.40 L364.79,370.74 L365.80,371.06 L366.80,371.38 L367.80,371.68 L368.80,371.97 L369.80,372.25 L370.80,372.52 L371.81,372.79 L372.81,373.04 L373.81,373.28 L374.81,373.51 L375.81,373.73 L376.82,373.95 L377.82,374.15 L378.82,374.35 L379.82,374.54 L380.82,374.72 L381.82,374.89 L382.83,375.06 L383.83,375.22 L384.83,375.37 L385.83,375.52 L386.83,375.66 L387.84,375.80 L388.84,375.93 L389.84,376.05 L390.84,376.17 L391.84,376.29 L392.84,376.40 L393.85,376.51 L394.85,376.61 L395.85,376.71 L396.85,376.80 L397.85,376.90 L398.85,376.99 L399.86,377.07 L400.86,377.16 L401.86,377.24 L402.86,377.32 L403.86,377.40 L404.87,377.48 L405.87,377.56 L406.87,377.64 L407.87,377.71 L408.87,377.79 L409.87,377.86 L410.88,377.93 L411.88,378.00 L412.88,378.07 L413.88,378.14 L414.88,378.21 L415.89,378.28 L416.89,378.34 L417.89,378.41 L418.89,378.47 L419.89,378.53 L420.89,378.59 L421.90,378.65 L422.90,378.71 L423.90,378.77 L424.90,378.82 L425.90,378.88 L426.91,378.93 L427.91,378.98 L428.91,379.03 L429.91,379.08 L430.91,379.13 L431.91,379.18 L432.92,379.23 L433.92,379.27 L434.92,379.31 L435.92,379.36 L436.92,379.40 L437.92,379.44 L438.93,379.48 L439.93,379.51 L440.93,379.55 L441.93,379.58 L442.93,379.62 L443.94,379.65 L444.94,379.68 L445.94,379.71 L446.94,379.74 L447.94,379.77 L448.94,379.79 L449.95,379.82 L450.95,379.84 L451.95,379.86 L452.95,379.88 L453.95,379.90 L454.96,379.92 L455.96,379.94 L456.96,379.95 L457.96,379.97 L458.96,379.98 L459.96,379.99 L460.97,380.00 L461.97,380.01 L462.97,380.02 L463.97,380.02 L464.97,380.03 L465.97,380.03 L466.98,380.03 L467.98,380.03 L468.98,380.03 L469.98,380.03 L470.98,380.02 L471.99,380.02 L472.99,380.01 L473.99,380.01 L474.99,380.00 L475.99,379.98 L476.99,379.97 L478.00,379.96 L479.00,379.94 L480.00,379.93" fill="none" stroke="#1f6ca0" stroke-width="2.00"/>
<path d="M200.50,269.81 L201.50,266.10 L202.50,262.46 L203.51,258.91 L204.51,255.44 L205.51,252.05 L206.51,248.75 L207.51,245.54 L208.52,242.41 L209.52,239.38 L210.52,236.44 L211.52,233.59 L212.52,230.84 L213.53,228.19 L214.53,225.64 L215.53,223.18 L216.53,220.83 L217.53,218.59 L218.54,216.45 L219.54,214.42 L220.54,212.50 L221.54,210.69 L222.54,208.99 L223.55,207.41 L224.55,205.94 L225.55,204.59 L226.55,203.37 L227.55,202.26 L228.56,201.28 L229.56,200.42 L230.56,199.69 L231.56,199.09 L232.56,198.62 L233.57,198.28 L234.57,198.07 L235.57,198.00 L236.57,198.05 L237.57,198.24 L238.58,198.55 L239.58,198.99 L240.58,199.54 L241.58,200.21 L242.58,201.00 L243.59,201.90 L244.59,202.91 L245.59,204.02 L246.59,205.24 L247.59,206.56 L248.60,207.98 L249.60,209.50 L250.60,211.10 L251.60,212.80 L252.60,214.59 L253.61,216.46 L254.61,218.41 L255.61,220.44 L256.61,222.55 L257.61,224.73 L258.62,226.99 L259.62,229.31 L260.62,231.70 L261.62,234.15 L262.62,236.65 L263.63,239.21 L264.63,241.82 L265.63,244.48 L266.63,247.18 L267.64,249.92 L268.64,252.69 L269.64,255.49 L270.64,258.32 L271.64,261.17 L272.65,264.05 L273.65,266.93 L274.65,269.83 L275.65,272.74 L276.65,275.65 L277.66,278.56 L278.66,281.47 L279.66,284.37 L280.66,287.25 L281.66,290.13 L282.67,292.98 L283.67,295.81 L284.67,298.61 L285.67,301.39 L286.67,304.12 L287.68,306.82 L288.68,309.48 L289.68,312.09 L290.68,314.66 L291.68,317.16 L292.69,319.62 L293.69,322.01 L294.69,324.33 L295.69,326.59 L296.69,328.77 L297.70,330.88 L298.70,332.92 L299.70,334.89 L300.70,336.79 L301.70,338.62 L302.71,340.39 L303.71,342.10 L304.71,343.75 L305.71,345.33 L306.71,346.86 L307.72,348.33 L308.72,349.74 L309.72,351.11 L310.72,352.42 L311.72,353.68 L312.73,354.89 L313.73,356.05 L314.73,357.17 L315.73,358.25 L316.73,359.28 L317.74,360.27 L318.74,361.22 L319.74,362.14 L320.74,363.02 L321.74,363.87 L322.75,364.68 L323.75,365.47 L324.75,366.22 L325.75,366.95 L326.75,367.65 L327.76,368.32 L328.76,368.97 L329.76,369.60 L330.76,370.20 L331.76,370.78 L332.77,371.34 L333.77,371.87 L334.77,372.38 L335.77,372.87 L336.77,373.34 L337.78,373.79 L338.78,374.22 L339.78,374.63 L340.78,375.01 L341.78,375.38 L342.79,375.74 L343.79,376.07 L344.79,376.39 L345.79,376.69 L346.79,376.97 L347.80,377.23 L348.80,377.48 L349.80,377.72 L350.80,377.94 L351.80,378.15 L352.81,378.34 L353.81,378.52 L354.81,378.68 L355.81,378.84 L356.81,378.98 L357.82,379.11 L358.82,379.23 L359.82,379.33 L360.82,379.43 L361.82,379.52 L362.83,379.60 L363.83,379.67 L364.83,379.73 L365.83,379.78 L366.83,379.83 L367.84,379.87 L368.84,379.90 L369.84,379.92 L370.84,379.94 L371.84,379.96 L372.85,379.97 L373.85,379.97 L374.85,379.97 L375.85,379.97 L376.85,379.97 L377.86,379.96 L378.86,379.95 L379.86,379.94 L380.86,379.92 L381.86,379.91 L382.87,379.90 L383.87,379.88 L384.87,379.87 L385.87,379.86 L386.88,379.85 L387.88,379.84 L388.88,379.83 L389.88,379.83 L390.88,379.83 L391.89,379.83 L392.89,379.84 L393.89,379.84 L394.89,379.85 L395.89,379.86 L396.90,379.88 L397.90,379.89 L398.90,379.91 L399.90,379.93 L400.90,379.95 L401.91,379.97 L402.91,379.99 L403.91,380.02 L404.91,380.04 L405.91,380.07 L406.92,380.09 L407.92,380.12 L408.92,380.14 L409.92,380.17 L410.92,380.20 L411.93,380.23 L412.93,380.25 L413.93,380.28 L414.93,380.31 L415.93,380.33 L416.94,380.36 L417.94,380.38 L418.94,380.40 L419.94,380.42 L420.94,380.44 L421.95,380.46 L422.95,380.48 L423.95,380.50 L424.95,380.51 L425.95,380.52 L426.96,380.53 L427.96,380.54 L428.96,380.55 L429.96,380.55 L430.96,380.55 L431.97,380.55 L432.97,380.54 L433.97,380.53 L434.97,380.52 L435.97,380.51 L436.98,380.49 L437.98,380.47 L438.98,380.44 L439.98,380.41 L440.98,380.38 L441.99,380.34 L442.99,380.30 L443.99,380.26 L444.99,380.21 L445.99,380.15 L447.00,380.09 L448.00,380.03 L449.00,379.96" fill="none" stroke="#e27abf" stroke-width="2.30"/>
<path d="M198.50,267.69 L199.50,265.51 L200.50,263.21 L201.50,260.80 L202.51,258.30 L203.51,255.72 L204.51,253.07 L205.51,250.37 L206.51,247.62 L207.51,244.83 L208.52,242.03 L209.52,239.21 L210.52,236.40 L211.52,233.61 L212.52,230.84 L213.52,228.11 L214.52,225.43 L215.53,222.82 L216.53,220.28 L217.53,217.82 L218.53,215.47 L219.53,213.22 L220.53,211.10 L221.54,209.09 L222.54,207.19 L223.54,205.40 L224.54,203.72 L225.54,202.14 L226.54,200.67 L227.54,199.29 L228.55,198.02 L229.55,196.83 L230.55,195.74 L231.55,194.74 L232.55,193.82 L233.55,192.99 L234.56,192.24 L235.56,191.57 L236.56,190.97 L237.56,190.45 L238.56,190.00 L239.56,189.61 L240.57,189.29 L241.57,189.04 L242.57,188.84 L243.57,188.70 L244.57,188.62 L245.57,188.59 L246.57,188.61 L247.58,188.67 L248.58,188.77 L249.58,188.89 L250.58,189.04 L251.58,189.20 L252.58,189.36 L253.59,189.53 L254.59,189.68 L255.59,189.82 L256.59,189.94 L257.59,190.03 L258.59,190.08 L259.59,190.09 L260.60,190.05 L261.60,189.94 L262.60,189.78 L263.60,189.54 L264.60,189.25 L265.60,188.90 L266.61,188.51 L267.61,188.07 L268.61,187.60 L269.61,187.10 L270.61,186.58 L271.61,186.03 L272.61,185.48 L273.62,184.92 L274.62,184.36 L275.62,183.81 L276.62,183.27 L277.62,182.75 L278.62,182.25 L279.63,181.78 L280.63,181.34 L281.63,180.93 L282.63,180.56 L283.63,180.24 L284.63,179.95 L285.63,179.71 L286.64,179.52 L287.64,179.38 L288.64,179.30 L289.64,179.27 L290.64,179.30 L291.64,179.40 L292.65,179.56 L293.65,179.80 L294.65,180.10 L295.65,180.48 L296.65,180.94 L297.65,181.48 L298.65,182.10 L299.66,182.81 L300.66,183.61 L301.66,184.50 L302.66,185.49 L303.66,186.58 L304.66,187.76 L305.67,189.06 L306.67,190.45 L307.67,191.95 L308.67,193.55 L309.67,195.23 L310.67,197.00 L311.67,198.84 L312.68,200.76 L313.68,202.75 L314.68,204.80 L315.68,206.91 L316.68,209.07 L317.68,211.27 L318.69,213.52 L319.69,215.80 L320.69,218.11 L321.69,220.45 L322.69,222.80 L323.69,225.18 L324.70,227.56 L325.70,229.96 L326.70,232.36 L327.70,234.78 L328.70,237.19 L329.70,239.61 L330.70,242.03 L331.71,244.44 L332.71,246.85 L333.71,249.25 L334.71,251.63 L335.71,254.01 L336.71,256.37 L337.72,258.71 L338.72,261.04 L339.72,263.34 L340.72,265.63 L341.72,267.89 L342.72,270.14 L343.72,272.36 L344.73,274.57 L345.73,276.75 L346.73,278.91 L347.73,281.05 L348.73,283.17 L349.73,285.27 L350.74,287.34 L351.74,289.39 L352.74,291.41 L353.74,293.41 L354.74,295.38 L355.74,297.33 L356.74,299.26 L357.75,301.16 L358.75,303.03 L359.75,304.88 L360.75,306.70 L361.75,308.49 L362.75,310.25 L363.76,311.99 L364.76,313.70 L365.76,315.38 L366.76,317.03 L367.76,318.65 L368.76,320.24 L369.76,321.80 L370.77,323.33 L371.77,324.82 L372.77,326.29 L373.77,327.73 L374.77,329.13 L375.77,330.50 L376.78,331.84 L377.78,333.14 L378.78,334.41 L379.78,335.66 L380.78,336.87 L381.78,338.05 L382.78,339.20 L383.79,340.32 L384.79,341.41 L385.79,342.48 L386.79,343.51 L387.79,344.52 L388.79,345.50 L389.80,346.46 L390.80,347.39 L391.80,348.29 L392.80,349.17 L393.80,350.02 L394.80,350.85 L395.80,351.66 L396.81,352.45 L397.81,353.21 L398.81,353.95 L399.81,354.67 L400.81,355.37 L401.81,356.04 L402.82,356.70 L403.82,357.34 L404.82,357.96 L405.82,358.56 L406.82,359.14 L407.82,359.71 L408.83,360.26 L409.83,360.79 L410.83,361.31 L411.83,361.81 L412.83,362.30 L413.83,362.77 L414.83,363.23 L415.84,363.67 L416.84,364.10 L417.84,364.52 L418.84,364.93 L419.84,365.33 L420.84,365.71 L421.85,366.09 L422.85,366.45 L423.85,366.81 L424.85,367.16 L425.85,367.49 L426.85,367.83 L427.85,368.15 L428.86,368.47 L429.86,368.78 L430.86,369.08 L431.86,369.38 L432.86,369.67 L433.86,369.96 L434.87,370.24 L435.87,370.52 L436.87,370.79 L437.87,371.05 L438.87,371.31 L439.87,371.57 L440.87,371.82 L441.88,372.06 L442.88,372.30 L443.88,372.53 L444.88,372.76 L445.88,372.98 L446.88,373.20 L447.89,373.42 L448.89,373.62 L449.89,373.83 L450.89,374.03 L451.89,374.22 L452.89,374.41 L453.89,374.59 L454.90,374.77 L455.90,374.95 L456.90,375.12 L457.90,375.28 L458.90,375.44 L459.90,375.60 L460.91,375.75 L461.91,375.90 L462.91,376.04 L463.91,376.18 L464.91,376.32 L465.91,376.45 L466.91,376.58 L467.92,376.70 L468.92,376.82 L469.92,376.93 L470.92,377.04 L471.92,377.15 L472.92,377.25 L473.93,377.35 L474.93,377.45 L475.93,377.54 L476.93,377.63 L477.93,377.71 L478.93,377.79 L479.93,377.87 L480.94,377.95 L481.94,378.02 L482.94,378.08 L483.94,378.15 L484.94,378.21 L485.94,378.26 L486.95,378.32 L487.95,378.37 L488.95,378.42 L489.95,378.46 L490.95,378.50 L491.95,378.54 L492.96,378.58 L493.96,378.61 L494.96,378.64 L495.96,378.67 L496.96,378.69 L497.96,378.72 L498.96,378.73 L499.97,378.75 L500.97,378.77 L501.97,378.78 L502.97,378.79 L503.97,378.79 L504.97,378.80 L505.98,378.80 L506.98,378.80 L507.98,378.80 L508.98,378.79 L509.98,378.79 L510.98,378.78 L511.98,378.77 L512.99,378.75 L513.99,378.74 L514.99,378.72 L515.99,378.70 L516.99,378.68 L517.99,378.66 L519.00,378.64 L520.00,378.61 L521.00,378.58 L522.00,378.55" fill="none" stroke="#000000" stroke-width="2.50" stroke-linecap="butt"/>
<g opacity="0.45" fill="#fff" clip-path="url(#dc)">
<polygon points="78.0,378.3 78.5,374.5 78.1,374.1 78.0,375.8 83.6,376.3 88.6,375.9 93.4,375.3 99.1,374.1 103.7,369.6 104.0,365.1 104.4,364.5 103.5,365.0 103.5,365.3 108.6,365.3 111.8,361.7 113.2,360.7 116.2,359.2 120.7,353.6 121.4,350.3 123.6,348.9 129.3,346.1 130.9,340.5 132.1,339.3 130.0,339.6 129.4,339.1 132.5,344.9 141.6,343.8 144.7,337.9 145.1,336.1 145.4,335.5 148.0,336.1 154.2,334.2 157.6,328.0 157.6,322.4 159.8,316.2 161.0,312.0 162.1,311.4 166.7,311.4 173.1,306.9 174.3,299.7 174.1,299.2 177.0,299.5 181.3,296.3 183.5,294.0 187.4,292.0 187.6,290.0 187.2,290.5 188.8,292.7 188.8,295.3 189.0,298.4 187.7,303.9 186.9,305.5 184.9,305.3 179.9,304.0 174.3,307.5 172.0,313.1 172.1,318.1 169.9,320.4 167.8,324.2 164.0,324.1 159.0,326.8 156.2,332.0 155.4,336.1 153.0,340.0 151.4,339.1 148.1,342.1 143.2,344.1 139.5,348.8 138.9,350.3 136.6,350.6 131.9,352.0 128.7,355.0 124.2,357.7 119.1,361.8 116.6,365.2 113.1,367.0 110.4,370.0 108.3,371.7 105.2,375.0 104.7,376.3 102.4,376.0 98.3,376.0 94.3,376.0 90.2,376.0 86.2,376.0 82.2,376.0 78.1,376.0"/>
<polygon points="220.4,296.9 222.5,294.8 227.0,293.4 230.7,287.4 229.6,287.9 231.3,292.7 230.5,298.1 231.9,304.3 234.6,307.6 235.4,311.2 236.8,316.5 239.0,321.4 244.1,324.6 248.8,325.1 252.0,324.8 256.5,324.9 261.3,321.8 265.7,317.0 264.7,310.2 262.2,307.7 262.2,308.0 262.4,307.9 264.8,306.2 267.1,303.2 270.1,301.3 271.2,300.7 272.8,300.3 273.7,303.1 275.8,309.4 276.2,311.2 274.1,311.8 267.7,317.6 268.7,326.7 269.0,330.5 269.1,331.6 265.7,333.5 261.5,336.0 258.2,337.3 252.2,337.2 247.3,340.8 246.2,341.9 245.2,340.9 242.1,337.7 238.9,334.6 237.1,330.9 233.8,327.9 233.9,328.1 236.7,325.2 236.9,318.3 235.1,312.7 234.3,307.4 229.8,305.0 225.2,299.7 221.4,297.0"/>
<circle cx="78.0" cy="378.3" r="5.40"/>
<circle cx="78.5" cy="374.5" r="5.40"/>
<circle cx="78.1" cy="374.1" r="5.40"/>
<circle cx="78.0" cy="375.8" r="5.40"/>
<circle cx="83.6" cy="376.3" r="5.40"/>
<circle cx="88.6" cy="375.9" r="5.40"/>
<circle cx="93.4" cy="375.3" r="5.40"/>
<circle cx="99.1" cy="374.1" r="5.40"/>
<circle cx="103.7" cy="369.6" r="5.40"/>
<circle cx="104.0" cy="365.1" r="5.40"/>
<circle cx="104.4" cy="364.5" r="5.40"/>
<circle cx="103.5" cy="365.0" r="5.40"/>
<circle cx="103.5" cy="365.3" r="5.40"/>
<circle cx="108.6" cy="365.3" r="5.40"/>
<circle cx="111.8" cy="361.7" r="5.40"/>
<circle cx="113.2" cy="360.7" r="5.40"/>
<circle cx="116.2" cy="359.2" r="5.40"/>
<circle cx="120.7" cy="353.6" r="5.40"/>
<circle cx="121.4" cy="350.3" r="5.40"/>
<circle cx="123.6" cy="348.9" r="5.40"/>
<circle cx="129.3" cy="346.1" r="5.40"/>
<circle cx="130.9" cy="340.5" r="5.40"/>
<circle cx="132.1" cy="339.3" r="5.40"/>
<circle cx="130.0" cy="339.6" r="5.40"/>
<circle cx="129.4" cy="339.1" r="5.40"/>
<circle cx="132.5" cy="344.9" r="5.40"/>
<circle cx="141.6" cy="343.8" r="5.40"/>
<circle cx="144.7" cy="337.9" r="5.40"/>
<circle cx="145.1" cy="336.1" r="5.40"/>
<circle cx="145.4" cy="335.5" r="5.40"/>
<circle cx="148.0" cy="336.1" r="5.40"/>
<circle cx="154.2" cy="334.2" r="5.40"/>
<circle cx="157.6" cy="328.0" r="5.40"/>
<circle cx="157.6" cy="322.4" r="5.40"/>
<circle cx="159.8" cy="316.2" r="5.40"/>
<circle cx="161.0" cy="312.0" r="5.40"/>
<circle cx="162.1" cy="311.4" r="5.40"/>
<circle cx="166.7" cy="311.4" r="5.40"/>
<circle cx="173.1" cy="306.9" r="5.40"/>
<circle cx="174.3" cy="299.7" r="5.40"/>
<circle cx="174.1" cy="299.2" r="5.40"/>
<circle cx="177.0" cy="299.5" r="5.40"/>
<circle cx="181.3" cy="296.3" r="5.40"/>
<circle cx="183.5" cy="294.0" r="5.40"/>
<circle cx="187.4" cy="292.0" r="5.40"/>
<circle cx="187.6" cy="290.0" r="5.40"/>
<circle cx="187.2" cy="290.5" r="5.40"/>
<circle cx="188.8" cy="292.7" r="5.40"/>
<circle cx="188.8" cy="295.3" r="5.40"/>
<circle cx="189.0" cy="298.4" r="5.40"/>
<circle cx="187.7" cy="303.9" r="5.40"/>
<circle cx="186.9" cy="305.5" r="5.40"/>
<circle cx="184.9" cy="305.3" r="5.40"/>
<circle cx="179.9" cy="304.0" r="5.40"/>
<circle cx="174.3" cy="307.5" r="5.40"/>
<circle cx="172.0" cy="313.1" r="5.40"/>
<circle cx="172.1" cy="318.1" r="5.40"/>
<circle cx="169.9" cy="320.4" r="5.40"/>
<circle cx="167.8" cy="324.2" r="5.40"/>
<circle cx="164.0" cy="324.1" r="5.40"/>
<circle cx="159.0" cy="326.8" r="5.40"/>
<circle cx="156.2" cy="332.0" r="5.40"/>
<circle cx="155.4" cy="336.1" r="5.40"/>
<circle cx="153.0" cy="340.0" r="5.40"/>
<circle cx="151.4" cy="339.1" r="5.40"/>
<circle cx="148.1" cy="342.1" r="5.40"/>
<circle cx="143.2" cy="344.1" r="5.40"/>
<circle cx="139.5" cy="348.8" r="5.40"/>
<circle cx="138.9" cy="350.3" r="5.40"/>
<circle cx="136.6" cy="350.6" r="5.40"/>
<circle cx="131.9" cy="352.0" r="5.40"/>
<circle cx="128.7" cy="355.0" r="5.40"/>
<circle cx="124.2" cy="357.7" r="5.40"/>
<circle cx="119.1" cy="361.8" r="5.40"/>
<circle cx="116.6" cy="365.2" r="5.40"/>
<circle cx="113.1" cy="367.0" r="5.40"/>
<circle cx="110.4" cy="370.0" r="5.40"/>
<circle cx="108.3" cy="371.7" r="5.40"/>
<circle cx="105.2" cy="375.0" r="5.40"/>
<circle cx="104.7" cy="376.3" r="5.40"/>
<circle cx="102.4" cy="376.0" r="5.40"/>
<circle cx="98.3" cy="376.0" r="5.40"/>
<circle cx="94.3" cy="376.0" r="5.40"/>
<circle cx="90.2" cy="376.0" r="5.40"/>
<circle cx="86.2" cy="376.0" r="5.40"/>
<circle cx="82.2" cy="376.0" r="5.40"/>
<circle cx="78.1" cy="376.0" r="5.40"/>
<circle cx="220.4" cy="296.9" r="5.40"/>
<circle cx="222.5" cy="294.8" r="5.40"/>
<circle cx="227.0" cy="293.4" r="5.40"/>
<circle cx="230.7" cy="287.4" r="5.40"/>
<circle cx="229.6" cy="287.9" r="5.40"/>
<circle cx="231.3" cy="292.7" r="5.40"/>
<circle cx="230.5" cy="298.1" r="5.40"/>
<circle cx="231.9" cy="304.3" r="5.40"/>
<circle cx="234.6" cy="307.6" r="5.40"/>
<circle cx="235.4" cy="311.2" r="5.40"/>
<circle cx="236.8" cy="316.5" r="5.40"/>
<circle cx="239.0" cy="321.4" r="5.40"/>
<circle cx="244.1" cy="324.6" r="5.40"/>
<circle cx="248.8" cy="325.1" r="5.40"/>
<circle cx="252.0" cy="324.8" r="5.40"/>
<circle cx="256.5" cy="324.9" r="5.40"/>
<circle cx="261.3" cy="321.8" r="5.40"/>
<circle cx="265.7" cy="317.0" r="5.40"/>
<circle cx="264.7" cy="310.2" r="5.40"/>
<circle cx="262.2" cy="307.7" r="5.40"/>
<circle cx="262.2" cy="308.0" r="5.40"/>
<circle cx="262.4" cy="307.9" r="5.40"/>
<circle cx="264.8" cy="306.2" r="5.40"/>
<circle cx="267.1" cy="303.2" r="5.40"/>
<circle cx="270.1" cy="301.3" r="5.40"/>
<circle cx="271.2" cy="300.7" r="5.40"/>
<circle cx="272.8" cy="300.3" r="5.40"/>
<circle cx="273.7" cy="303.1" r="5.40"/>
<circle cx="275.8" cy="309.4" r="5.40"/>
<circle cx="276.2" cy="311.2" r="5.40"/>
<circle cx="274.1" cy="311.8" r="5.40"/>
<circle cx="267.7" cy="317.6" r="5.40"/>
<circle cx="268.7" cy="326.7" r="5.40"/>
<circle cx="269.0" cy="330.5" r="5.40"/>
<circle cx="269.1" cy="331.6" r="5.40"/>
<circle cx="265.7" cy="333.5" r="5.40"/>
<circle cx="261.5" cy="336.0" r="5.40"/>
<circle cx="258.2" cy="337.3" r="5.40"/>
<circle cx="252.2" cy="337.2" r="5.40"/>
<circle cx="247.3" cy="340.8" r="5.40"/>
<circle cx="246.2" cy="341.9" r="5.40"/>
<circle cx="245.2" cy="340.9" r="5.40"/>
<circle cx="242.1" cy="337.7" r="5.40"/>
<circle cx="238.9" cy="334.6" r="5.40"/>
<circle cx="237.1" cy="330.9" r="5.40"/>
<circle cx="233.8" cy="327.9" r="5.40"/>
<circle cx="233.9" cy="328.1" r="5.40"/>
<circle cx="236.7" cy="325.2" r="5.40"/>
<circle cx="236.9" cy="318.3" r="5.40"/>
<circle cx="235.1" cy="312.7" r="5.40"/>
<circle cx="234.3" cy="307.4" r="5.40"/>
<circle cx="229.8" cy="305.0" r="5.40"/>
<circle cx="225.2" cy="299.7" r="5.40"/>
<circle cx="221.4" cy="297.0" r="5.40"/>
<circle cx="134.3" cy="311.7" r="5.40"/>
<circle cx="171.3" cy="335.7" r="5.40"/>
<circle cx="133.1" cy="380.3" r="5.40"/>
<circle cx="231.8" cy="346.8" r="5.40"/>
<circle cx="78.6" cy="377.6" r="5.40"/>
<circle cx="102.9" cy="365.2" r="5.40"/>
<circle cx="131.0" cy="339.8" r="5.40"/>
<circle cx="120.5" cy="349.5" r="5.40"/>
<circle cx="125.0" cy="347.5" r="5.40"/>
<circle cx="136.6" cy="345.0" r="5.40"/>
<circle cx="147.7" cy="336.0" r="5.40"/>
<circle cx="160.9" cy="311.6" r="5.40"/>
<circle cx="165.5" cy="311.6" r="5.40"/>
<circle cx="173.3" cy="299.8" r="5.40"/>
<circle cx="177.6" cy="299.8" r="5.40"/>
<circle cx="202.7" cy="267.1" r="5.40"/>
<circle cx="204.5" cy="270.7" r="5.40"/>
<circle cx="191.8" cy="273.0" r="5.40"/>
<circle cx="196.4" cy="272.5" r="5.40"/>
<circle cx="190.9" cy="279.8" r="5.40"/>
<circle cx="198.2" cy="284.4" r="5.40"/>
<circle cx="190.9" cy="285.3" r="5.40"/>
<circle cx="200.0" cy="291.6" r="5.40"/>
<circle cx="200.9" cy="294.4" r="5.40"/>
<circle cx="185.5" cy="292.5" r="5.40"/>
<circle cx="181.8" cy="296.2" r="5.40"/>
<circle cx="189.1" cy="295.3" r="5.40"/>
<circle cx="194.0" cy="279.7" r="5.40"/>
<circle cx="195.0" cy="288.0" r="5.40"/>
<circle cx="193.2" cy="269.8" r="5.40"/>
<circle cx="199.6" cy="269.8" r="5.40"/>
<circle cx="202.8" cy="249.5" r="5.40"/>
<circle cx="210.0" cy="248.5" r="5.40"/>
<circle cx="216.9" cy="245.7" r="5.40"/>
<circle cx="215.6" cy="252.7" r="5.40"/>
<circle cx="210.0" cy="224.5" r="5.40"/>
<circle cx="204.0" cy="231.0" r="5.40"/>
<circle cx="218.0" cy="228.5" r="5.40"/>
<circle cx="208.5" cy="234.0" r="5.40"/>
<circle cx="214.0" cy="232.0" r="5.40"/>
<circle cx="212.0" cy="205.0" r="5.40"/>
<circle cx="211.0" cy="211.5" r="5.40"/>
<circle cx="214.6" cy="252.3" r="5.40"/>
<circle cx="221.0" cy="263.0" r="5.40"/>
<circle cx="218.6" cy="266.1" r="5.40"/>
<circle cx="224.0" cy="274.0" r="5.40"/>
<circle cx="228.3" cy="288.0" r="5.40"/>
<circle cx="230.8" cy="291.5" r="5.40"/>
<circle cx="219.8" cy="295.6" r="5.40"/>
<circle cx="222.7" cy="293.4" r="5.40"/>
<circle cx="229.6" cy="297.2" r="5.40"/>
<circle cx="226.3" cy="303.5" r="5.40"/>
<circle cx="235.6" cy="306.4" r="5.40"/>
<circle cx="236.7" cy="312.5" r="5.40"/>
<circle cx="233.9" cy="318.5" r="5.40"/>
<circle cx="296.3" cy="166.1" r="5.40"/>
<circle cx="295.7" cy="170.2" r="5.40"/>
<circle cx="302.6" cy="180.5" r="5.40"/>
<circle cx="292.3" cy="183.4" r="5.40"/>
<circle cx="298.0" cy="186.9" r="5.40"/>
<circle cx="293.4" cy="187.2" r="5.40"/>
<circle cx="298.7" cy="188.0" r="5.40"/>
<circle cx="289.7" cy="193.2" r="5.40"/>
<circle cx="294.2" cy="196.9" r="5.40"/>
<circle cx="301.6" cy="195.4" r="5.40"/>
<circle cx="303.1" cy="201.4" r="5.40"/>
<circle cx="304.6" cy="205.1" r="5.40"/>
<circle cx="308.4" cy="208.1" r="5.40"/>
<circle cx="310.6" cy="212.6" r="5.40"/>
<circle cx="311.3" cy="215.6" r="5.40"/>
<circle cx="291.2" cy="211.1" r="5.40"/>
<circle cx="294.9" cy="216.3" r="5.40"/>
<circle cx="302.4" cy="215.6" r="5.40"/>
<circle cx="299.4" cy="225.6" r="5.40"/>
<circle cx="305.7" cy="224.6" r="5.40"/>
<circle cx="307.9" cy="231.5" r="5.40"/>
<circle cx="313.8" cy="228.5" r="5.40"/>
<circle cx="305.7" cy="235.2" r="5.40"/>
<circle cx="314.6" cy="239.5" r="5.40"/>
<circle cx="312.6" cy="248.8" r="5.40"/>
<circle cx="312.6" cy="253.8" r="5.40"/>
<circle cx="289.0" cy="234.0" r="5.40"/>
<circle cx="289.6" cy="239.5" r="5.40"/>
<circle cx="283.8" cy="242.2" r="5.40"/>
<circle cx="287.3" cy="247.6" r="5.40"/>
<circle cx="286.3" cy="251.7" r="5.40"/>
<circle cx="283.4" cy="266.7" r="5.40"/>
<circle cx="277.6" cy="274.2" r="5.40"/>
<circle cx="282.8" cy="276.5" r="5.40"/>
<circle cx="278.2" cy="284.5" r="5.40"/>
<circle cx="281.1" cy="288.0" r="5.40"/>
<circle cx="279.6" cy="287.3" r="5.40"/>
<circle cx="270.7" cy="299.5" r="5.40"/>
<circle cx="274.2" cy="298.4" r="5.40"/>
<circle cx="289.5" cy="240.0" r="5.40"/>
<circle cx="287.5" cy="245.5" r="5.40"/>
</g>
<g fill="#0a1549" clip-path="url(#dc)">
<polygon points="74.1,381.0 74.1,368.7 76.4,370.0 79.1,371.5 83.0,372.0 83.0,381.0"/>
<polygon points="78.0,378.3 78.5,374.5 78.1,374.1 78.0,375.8 83.6,376.3 88.6,375.9 93.4,375.3 99.1,374.1 103.7,369.6 104.0,365.1 104.4,364.5 103.5,365.0 103.5,365.3 108.6,365.3 111.8,361.7 113.2,360.7 116.2,359.2 120.7,353.6 121.4,350.3 123.6,348.9 129.3,346.1 130.9,340.5 132.1,339.3 130.0,339.6 129.4,339.1 132.5,344.9 141.6,343.8 144.7,337.9 145.1,336.1 145.4,335.5 148.0,336.1 154.2,334.2 157.6,328.0 157.6,322.4 159.8,316.2 161.0,312.0 162.1,311.4 166.7,311.4 173.1,306.9 174.3,299.7 174.1,299.2 177.0,299.5 181.3,296.3 183.5,294.0 187.4,292.0 187.6,290.0 187.2,290.5 188.8,292.7 188.8,295.3 189.0,298.4 187.7,303.9 186.9,305.5 184.9,305.3 179.9,304.0 174.3,307.5 172.0,313.1 172.1,318.1 169.9,320.4 167.8,324.2 164.0,324.1 159.0,326.8 156.2,332.0 155.4,336.1 153.0,340.0 151.4,339.1 148.1,342.1 143.2,344.1 139.5,348.8 138.9,350.3 136.6,350.6 131.9,352.0 128.7,355.0 124.2,357.7 119.1,361.8 116.6,365.2 113.1,367.0 110.4,370.0 108.3,371.7 105.2,375.0 104.7,376.3 102.4,376.0 98.3,376.0 94.3,376.0 90.2,376.0 86.2,376.0 82.2,376.0 78.1,376.0"/>
<circle cx="78.0" cy="378.3" r="4.50"/>
<circle cx="78.5" cy="374.5" r="4.50"/>
<circle cx="78.1" cy="374.1" r="4.50"/>
<circle cx="78.0" cy="375.8" r="4.50"/>
<circle cx="83.6" cy="376.3" r="4.50"/>
<circle cx="88.6" cy="375.9" r="4.50"/>
<circle cx="93.4" cy="375.3" r="4.50"/>
<circle cx="99.1" cy="374.1" r="4.50"/>
<circle cx="103.7" cy="369.6" r="4.50"/>
<circle cx="104.0" cy="365.1" r="4.50"/>
<circle cx="104.4" cy="364.5" r="4.50"/>
<circle cx="103.5" cy="365.0" r="4.50"/>
<circle cx="103.5" cy="365.3" r="4.50"/>
<circle cx="108.6" cy="365.3" r="4.50"/>
<circle cx="111.8" cy="361.7" r="4.50"/>
<circle cx="113.2" cy="360.7" r="4.50"/>
<circle cx="116.2" cy="359.2" r="4.50"/>
<circle cx="120.7" cy="353.6" r="4.50"/>
<circle cx="121.4" cy="350.3" r="4.50"/>
<circle cx="123.6" cy="348.9" r="4.50"/>
<circle cx="129.3" cy="346.1" r="4.50"/>
<circle cx="130.9" cy="340.5" r="4.50"/>
<circle cx="132.1" cy="339.3" r="4.50"/>
<circle cx="130.0" cy="339.6" r="4.50"/>
<circle cx="129.4" cy="339.1" r="4.50"/>
<circle cx="132.5" cy="344.9" r="4.50"/>
<circle cx="141.6" cy="343.8" r="4.50"/>
<circle cx="144.7" cy="337.9" r="4.50"/>
<circle cx="145.1" cy="336.1" r="4.50"/>
<circle cx="145.4" cy="335.5" r="4.50"/>
<circle cx="148.0" cy="336.1" r="4.50"/>
<circle cx="154.2" cy="334.2" r="4.50"/>
<circle cx="157.6" cy="328.0" r="4.50"/>
<circle cx="157.6" cy="322.4" r="4.50"/>
<circle cx="159.8" cy="316.2" r="4.50"/>
<circle cx="161.0" cy="312.0" r="4.50"/>
<circle cx="162.1" cy="311.4" r="4.50"/>
<circle cx="166.7" cy="311.4" r="4.50"/>
<circle cx="173.1" cy="306.9" r="4.50"/>
<circle cx="174.3" cy="299.7" r="4.50"/>
<circle cx="174.1" cy="299.2" r="4.50"/>
<circle cx="177.0" cy="299.5" r="4.50"/>
<circle cx="181.3" cy="296.3" r="4.50"/>
<circle cx="183.5" cy="294.0" r="4.50"/>
<circle cx="187.4" cy="292.0" r="4.50"/>
<circle cx="187.6" cy="290.0" r="4.50"/>
<circle cx="187.2" cy="290.5" r="4.50"/>
<circle cx="188.8" cy="292.7" r="4.50"/>
<circle cx="188.8" cy="295.3" r="4.50"/>
<circle cx="189.0" cy="298.4" r="4.50"/>
<circle cx="187.7" cy="303.9" r="4.50"/>
<circle cx="186.9" cy="305.5" r="4.50"/>
<circle cx="184.9" cy="305.3" r="4.50"/>
<circle cx="179.9" cy="304.0" r="4.50"/>
<circle cx="174.3" cy="307.5" r="4.50"/>
<circle cx="172.0" cy="313.1" r="4.50"/>
<circle cx="172.1" cy="318.1" r="4.50"/>
<circle cx="169.9" cy="320.4" r="4.50"/>
<circle cx="167.8" cy="324.2" r="4.50"/>
<circle cx="164.0" cy="324.1" r="4.50"/>
<circle cx="159.0" cy="326.8" r="4.50"/>
<circle cx="156.2" cy="332.0" r="4.50"/>
<circle cx="155.4" cy="336.1" r="4.50"/>
<circle cx="153.0" cy="340.0" r="4.50"/>
<circle cx="151.4" cy="339.1" r="4.50"/>
<circle cx="148.1" cy="342.1" r="4.50"/>
<circle cx="143.2" cy="344.1" r="4.50"/>
<circle cx="139.5" cy="348.8" r="4.50"/>
<circle cx="138.9" cy="350.3" r="4.50"/>
<circle cx="136.6" cy="350.6" r="4.50"/>
<circle cx="131.9" cy="352.0" r="4.50"/>
<circle cx="128.7" cy="355.0" r="4.50"/>
<circle cx="124.2" cy="357.7" r="4.50"/>
<circle cx="119.1" cy="361.8" r="4.50"/>
<circle cx="116.6" cy="365.2" r="4.50"/>
<circle cx="113.1" cy="367.0" r="4.50"/>
<circle cx="110.4" cy="370.0" r="4.50"/>
<circle cx="108.3" cy="371.7" r="4.50"/>
<circle cx="105.2" cy="375.0" r="4.50"/>
<circle cx="104.7" cy="376.3" r="4.50"/>
<circle cx="102.4" cy="376.0" r="4.50"/>
<circle cx="98.3" cy="376.0" r="4.50"/>
<circle cx="94.3" cy="376.0" r="4.50"/>
<circle cx="90.2" cy="376.0" r="4.50"/>
<circle cx="86.2" cy="376.0" r="4.50"/>
<circle cx="82.2" cy="376.0" r="4.50"/>
<circle cx="78.1" cy="376.0" r="4.50"/>
<polygon points="220.4,296.9 222.5,294.8 227.0,293.4 230.7,287.4 229.6,287.9 231.3,292.7 230.5,298.1 231.9,304.3 234.6,307.6 235.4,311.2 236.8,316.5 239.0,321.4 244.1,324.6 248.8,325.1 252.0,324.8 256.5,324.9 261.3,321.8 265.7,317.0 264.7,310.2 262.2,307.7 262.2,308.0 262.4,307.9 264.8,306.2 267.1,303.2 270.1,301.3 271.2,300.7 272.8,300.3 273.7,303.1 275.8,309.4 276.2,311.2 274.1,311.8 267.7,317.6 268.7,326.7 269.0,330.5 269.1,331.6 265.7,333.5 261.5,336.0 258.2,337.3 252.2,337.2 247.3,340.8 246.2,341.9 245.2,340.9 242.1,337.7 238.9,334.6 237.1,330.9 233.8,327.9 233.9,328.1 236.7,325.2 236.9,318.3 235.1,312.7 234.3,307.4 229.8,305.0 225.2,299.7 221.4,297.0"/>
<circle cx="220.4" cy="296.9" r="4.50"/>
<circle cx="222.5" cy="294.8" r="4.50"/>
<circle cx="227.0" cy="293.4" r="4.50"/>
<circle cx="230.7" cy="287.4" r="4.50"/>
<circle cx="229.6" cy="287.9" r="4.50"/>
<circle cx="231.3" cy="292.7" r="4.50"/>
<circle cx="230.5" cy="298.1" r="4.50"/>
<circle cx="231.9" cy="304.3" r="4.50"/>
<circle cx="234.6" cy="307.6" r="4.50"/>
<circle cx="235.4" cy="311.2" r="4.50"/>
<circle cx="236.8" cy="316.5" r="4.50"/>
<circle cx="239.0" cy="321.4" r="4.50"/>
<circle cx="244.1" cy="324.6" r="4.50"/>
<circle cx="248.8" cy="325.1" r="4.50"/>
<circle cx="252.0" cy="324.8" r="4.50"/>
<circle cx="256.5" cy="324.9" r="4.50"/>
<circle cx="261.3" cy="321.8" r="4.50"/>
<circle cx="265.7" cy="317.0" r="4.50"/>
<circle cx="264.7" cy="310.2" r="4.50"/>
<circle cx="262.2" cy="307.7" r="4.50"/>
<circle cx="262.2" cy="308.0" r="4.50"/>
<circle cx="262.4" cy="307.9" r="4.50"/>
<circle cx="264.8" cy="306.2" r="4.50"/>
<circle cx="267.1" cy="303.2" r="4.50"/>
<circle cx="270.1" cy="301.3" r="4.50"/>
<circle cx="271.2" cy="300.7" r="4.50"/>
<circle cx="272.8" cy="300.3" r="4.50"/>
<circle cx="273.7" cy="303.1" r="4.50"/>
<circle cx="275.8" cy="309.4" r="4.50"/>
<circle cx="276.2" cy="311.2" r="4.50"/>
<circle cx="274.1" cy="311.8" r="4.50"/>
<circle cx="267.7" cy="317.6" r="4.50"/>
<circle cx="268.7" cy="326.7" r="4.50"/>
<circle cx="269.0" cy="330.5" r="4.50"/>
<circle cx="269.1" cy="331.6" r="4.50"/>
<circle cx="265.7" cy="333.5" r="4.50"/>
<circle cx="261.5" cy="336.0" r="4.50"/>
<circle cx="258.2" cy="337.3" r="4.50"/>
<circle cx="252.2" cy="337.2" r="4.50"/>
<circle cx="247.3" cy="340.8" r="4.50"/>
<circle cx="246.2" cy="341.9" r="4.50"/>
<circle cx="245.2" cy="340.9" r="4.50"/>
<circle cx="242.1" cy="337.7" r="4.50"/>
<circle cx="238.9" cy="334.6" r="4.50"/>
<circle cx="237.1" cy="330.9" r="4.50"/>
<circle cx="233.8" cy="327.9" r="4.50"/>
<circle cx="233.9" cy="328.1" r="4.50"/>
<circle cx="236.7" cy="325.2" r="4.50"/>
<circle cx="236.9" cy="318.3" r="4.50"/>
<circle cx="235.1" cy="312.7" r="4.50"/>
<circle cx="234.3" cy="307.4" r="4.50"/>
<circle cx="229.8" cy="305.0" r="4.50"/>
<circle cx="225.2" cy="299.7" r="4.50"/>
<circle cx="221.4" cy="297.0" r="4.50"/>
<circle cx="134.3" cy="311.7" r="4.50"/>
<circle cx="171.3" cy="335.7" r="4.50"/>
<circle cx="133.1" cy="380.3" r="4.50"/>
<circle cx="231.8" cy="346.8" r="4.50"/>
<circle cx="78.6" cy="377.6" r="4.50"/>
<circle cx="102.9" cy="365.2" r="4.50"/>
<circle cx="131.0" cy="339.8" r="4.50"/>
<circle cx="120.5" cy="349.5" r="4.50"/>
<circle cx="125.0" cy="347.5" r="4.50"/>
<circle cx="136.6" cy="345.0" r="4.50"/>
<circle cx="147.7" cy="336.0" r="4.50"/>
<circle cx="160.9" cy="311.6" r="4.50"/>
<circle cx="165.5" cy="311.6" r="4.50"/>
<circle cx="173.3" cy="299.8" r="4.50"/>
<circle cx="177.6" cy="299.8" r="4.50"/>
<circle cx="202.7" cy="267.1" r="4.50"/>
<circle cx="204.5" cy="270.7" r="4.50"/>
<circle cx="191.8" cy="273.0" r="4.50"/>
<circle cx="196.4" cy="272.5" r="4.50"/>
<circle cx="190.9" cy="279.8" r="4.50"/>
<circle cx="198.2" cy="284.4" r="4.50"/>
<circle cx="190.9" cy="285.3" r="4.50"/>
<circle cx="200.0" cy="291.6" r="4.50"/>
<circle cx="200.9" cy="294.4" r="4.50"/>
<circle cx="185.5" cy="292.5" r="4.50"/>
<circle cx="181.8" cy="296.2" r="4.50"/>
<circle cx="189.1" cy="295.3" r="4.50"/>
<circle cx="194.0" cy="279.7" r="4.50"/>
<circle cx="195.0" cy="288.0" r="4.50"/>
<circle cx="193.2" cy="269.8" r="4.50"/>
<circle cx="199.6" cy="269.8" r="4.50"/>
<circle cx="202.8" cy="249.5" r="4.50"/>
<circle cx="210.0" cy="248.5" r="4.50"/>
<circle cx="216.9" cy="245.7" r="4.50"/>
<circle cx="215.6" cy="252.7" r="4.50"/>
<circle cx="210.0" cy="224.5" r="4.50"/>
<circle cx="204.0" cy="231.0" r="4.50"/>
<circle cx="218.0" cy="228.5" r="4.50"/>
<circle cx="208.5" cy="234.0" r="4.50"/>
<circle cx="214.0" cy="232.0" r="4.50"/>
<circle cx="212.0" cy="205.0" r="4.50"/>
<circle cx="211.0" cy="211.5" r="4.50"/>
<circle cx="214.6" cy="252.3" r="4.50"/>
<circle cx="221.0" cy="263.0" r="4.50"/>
<circle cx="218.6" cy="266.1" r="4.50"/>
<circle cx="224.0" cy="274.0" r="4.50"/>
<circle cx="228.3" cy="288.0" r="4.50"/>
<circle cx="230.8" cy="291.5" r="4.50"/>
<circle cx="219.8" cy="295.6" r="4.50"/>
<circle cx="222.7" cy="293.4" r="4.50"/>
<circle cx="229.6" cy="297.2" r="4.50"/>
<circle cx="226.3" cy="303.5" r="4.50"/>
<circle cx="235.6" cy="306.4" r="4.50"/>
<circle cx="236.7" cy="312.5" r="4.50"/>
<circle cx="233.9" cy="318.5" r="4.50"/>
<circle cx="296.3" cy="166.1" r="4.50"/>
<circle cx="295.7" cy="170.2" r="4.50"/>
<circle cx="302.6" cy="180.5" r="4.50"/>
<circle cx="292.3" cy="183.4" r="4.50"/>
<circle cx="298.0" cy="186.9" r="4.50"/>
<circle cx="293.4" cy="187.2" r="4.50"/>
<circle cx="298.7" cy="188.0" r="4.50"/>
<circle cx="289.7" cy="193.2" r="4.50"/>
<circle cx="294.2" cy="196.9" r="4.50"/>
<circle cx="301.6" cy="195.4" r="4.50"/>
<circle cx="303.1" cy="201.4" r="4.50"/>
<circle cx="304.6" cy="205.1" r="4.50"/>
<circle cx="308.4" cy="208.1" r="4.50"/>
<circle cx="310.6" cy="212.6" r="4.50"/>
<circle cx="311.3" cy="215.6" r="4.50"/>
<circle cx="291.2" cy="211.1" r="4.50"/>
<circle cx="294.9" cy="216.3" r="4.50"/>
<circle cx="302.4" cy="215.6" r="4.50"/>
<circle cx="299.4" cy="225.6" r="4.50"/>
<circle cx="305.7" cy="224.6" r="4.50"/>
<circle cx="307.9" cy="231.5" r="4.50"/>
<circle cx="313.8" cy="228.5" r="4.50"/>
<circle cx="305.7" cy="235.2" r="4.50"/>
<circle cx="314.6" cy="239.5" r="4.50"/>
<circle cx="312.6" cy="248.8" r="4.50"/>
<circle cx="312.6" cy="253.8" r="4.50"/>
<circle cx="289.0" cy="234.0" r="4.50"/>
<circle cx="289.6" cy="239.5" r="4.50"/>
<circle cx="283.8" cy="242.2" r="4.50"/>
<circle cx="287.3" cy="247.6" r="4.50"/>
<circle cx="286.3" cy="251.7" r="4.50"/>
<circle cx="283.4" cy="266.7" r="4.50"/>
<circle cx="277.6" cy="274.2" r="4.50"/>
<circle cx="282.8" cy="276.5" r="4.50"/>
<circle cx="278.2" cy="284.5" r="4.50"/>
<circle cx="281.1" cy="288.0" r="4.50"/>
<circle cx="279.6" cy="287.3" r="4.50"/>
<circle cx="270.7" cy="299.5" r="4.50"/>
<circle cx="274.2" cy="298.4" r="4.50"/>
<circle cx="289.5" cy="240.0" r="4.50"/>
<circle cx="287.5" cy="245.5" r="4.50"/>
</g>
</g>
<path d="M62.50,380.30H67.00M62.50,336.02H67.00M62.50,291.74H67.00M62.50,247.46H67.00M62.50,203.18H67.00M62.50,158.90H67.00M62.50,114.62H67.00M62.50,70.34H67.00M62.50,26.06H67.00M69.30,380.20V384.70M96.68,380.20V384.70M123.18,380.20V384.70M150.55,380.20V384.70M177.05,380.20V384.70M204.43,380.20V384.70M231.81,380.20V384.70M256.54,380.20V384.70M283.92,380.20V384.70M310.41,380.20V384.70M337.79,380.20V384.70M364.29,380.20V384.70M391.67,380.20V384.70M419.05,380.20V384.70M445.54,380.20V384.70M472.92,380.20V384.70M499.42,380.20V384.70M526.80,380.20V384.70" stroke="#000" stroke-width="1.20" fill="none"/>
<path d="M72.83,380.20V382.80M79.02,380.20V382.80M85.20,380.20V382.80M91.38,380.20V382.80M97.56,380.20V382.80M103.74,380.20V382.80M109.93,380.20V382.80M116.11,380.20V382.80M122.29,380.20V382.80M128.47,380.20V382.80M134.66,380.20V382.80M140.84,380.20V382.80M147.02,380.20V382.80M153.20,380.20V382.80M159.39,380.20V382.80M165.57,380.20V382.80M171.75,380.20V382.80M177.93,380.20V382.80M184.12,380.20V382.80M190.30,380.20V382.80M196.48,380.20V382.80M202.66,380.20V382.80M208.85,380.20V382.80M215.03,380.20V382.80M221.21,380.20V382.80M227.39,380.20V382.80M233.58,380.20V382.80M239.76,380.20V382.80M245.94,380.20V382.80M252.12,380.20V382.80M258.30,380.20V382.80M264.49,380.20V382.80M270.67,380.20V382.80M276.85,380.20V382.80M283.03,380.20V382.80M289.22,380.20V382.80M295.40,380.20V382.80M301.58,380.20V382.80M307.76,380.20V382.80M313.95,380.20V382.80M320.13,380.20V382.80M326.31,380.20V382.80M332.49,380.20V382.80M338.68,380.20V382.80M344.86,380.20V382.80M351.04,380.20V382.80M357.22,380.20V382.80M363.41,380.20V382.80M369.59,380.20V382.80M375.77,380.20V382.80M381.95,380.20V382.80M388.14,380.20V382.80M394.32,380.20V382.80M400.50,380.20V382.80M406.68,380.20V382.80M412.86,380.20V382.80M419.05,380.20V382.80M425.23,380.20V382.80M431.41,380.20V382.80M437.59,380.20V382.80M443.78,380.20V382.80M449.96,380.20V382.80M456.14,380.20V382.80M462.32,380.20V382.80M468.51,380.20V382.80M474.69,380.20V382.80M480.87,380.20V382.80M487.05,380.20V382.80M493.24,380.20V382.80M499.42,380.20V382.80M505.60,380.20V382.80M511.78,380.20V382.80M517.97,380.20V382.80M524.15,380.20V382.80M530.33,380.20V382.80M536.51,380.20V382.80M542.70,380.20V382.80" stroke="#000" stroke-width="0.90" fill="none"/>
<rect x="67.00" y="25.00" width="476.00" height="355.20" fill="none" stroke="#000" stroke-width="1.15"/>
<text x="57.60" y="385.30" text-anchor="end" font-size="14.40" textLength="8.30" lengthAdjust="spacingAndGlyphs">0</text>
<text x="57.60" y="341.02" text-anchor="end" font-size="14.40" textLength="33.20" lengthAdjust="spacingAndGlyphs">1000</text>
<text x="57.60" y="296.74" text-anchor="end" font-size="14.40" textLength="33.20" lengthAdjust="spacingAndGlyphs">2000</text>
<text x="57.60" y="252.46" text-anchor="end" font-size="14.40" textLength="33.20" lengthAdjust="spacingAndGlyphs">3000</text>
<text x="57.60" y="208.18" text-anchor="end" font-size="14.40" textLength="33.20" lengthAdjust="spacingAndGlyphs">4000</text>
<text x="57.60" y="163.90" text-anchor="end" font-size="14.40" textLength="33.20" lengthAdjust="spacingAndGlyphs">5000</text>
<text x="57.60" y="119.62" text-anchor="end" font-size="14.40" textLength="33.20" lengthAdjust="spacingAndGlyphs">6000</text>
<text x="57.60" y="75.34" text-anchor="end" font-size="14.40" textLength="33.20" lengthAdjust="spacingAndGlyphs">7000</text>
<text x="57.60" y="31.06" text-anchor="end" font-size="14.40" textLength="33.20" lengthAdjust="spacingAndGlyphs">8000</text>
<text transform="translate(73.70,390.90) rotate(-90)" x="0" y="0" text-anchor="end" font-size="14.60" textLength="55.60" lengthAdjust="spacingAndGlyphs">2020-08</text>
<text transform="translate(101.08,390.90) rotate(-90)" x="0" y="0" text-anchor="end" font-size="14.60" textLength="55.60" lengthAdjust="spacingAndGlyphs">2020-09</text>
<text transform="translate(127.58,390.90) rotate(-90)" x="0" y="0" text-anchor="end" font-size="14.60" textLength="55.60" lengthAdjust="spacingAndGlyphs">2020-10</text>
<text transform="translate(154.95,390.90) rotate(-90)" x="0" y="0" text-anchor="end" font-size="14.60" textLength="55.60" lengthAdjust="spacingAndGlyphs">2020-11</text>
<text transform="translate(181.45,390.90) rotate(-90)" x="0" y="0" text-anchor="end" font-size="14.60" textLength="55.60" lengthAdjust="spacingAndGlyphs">2020-12</text>
<text transform="translate(208.83,390.90) rotate(-90)" x="0" y="0" text-anchor="end" font-size="14.60" textLength="55.60" lengthAdjust="spacingAndGlyphs">2021-01</text>
<text transform="translate(236.21,390.90) rotate(-90)" x="0" y="0" text-anchor="end" font-size="14.60" textLength="55.60" lengthAdjust="spacingAndGlyphs">2021-02</text>
<text transform="translate(260.94,390.90) rotate(-90)" x="0" y="0" text-anchor="end" font-size="14.60" textLength="55.60" lengthAdjust="spacingAndGlyphs">2021-03</text>
<text transform="translate(288.32,390.90) rotate(-90)" x="0" y="0" text-anchor="end" font-size="14.60" textLength="55.60" lengthAdjust="spacingAndGlyphs">2021-04</text>
<text transform="translate(314.81,390.90) rotate(-90)" x="0" y="0" text-anchor="end" font-size="14.60" textLength="55.60" lengthAdjust="spacingAndGlyphs">2021-05</text>
<text transform="translate(342.19,390.90) rotate(-90)" x="0" y="0" text-anchor="end" font-size="14.60" textLength="55.60" lengthAdjust="spacingAndGlyphs">2021-06</text>
<text transform="translate(368.69,390.90) rotate(-90)" x="0" y="0" text-anchor="end" font-size="14.60" textLength="55.60" lengthAdjust="spacingAndGlyphs">2021-07</text>
<text transform="translate(396.07,390.90) rotate(-90)" x="0" y="0" text-anchor="end" font-size="14.60" textLength="55.60" lengthAdjust="spacingAndGlyphs">2021-08</text>
<text transform="translate(423.45,390.90) rotate(-90)" x="0" y="0" text-anchor="end" font-size="14.60" textLength="55.60" lengthAdjust="spacingAndGlyphs">2021-09</text>
<text transform="translate(449.94,390.90) rotate(-90)" x="0" y="0" text-anchor="end" font-size="14.60" textLength="55.60" lengthAdjust="spacingAndGlyphs">2021-10</text>
<text transform="translate(477.32,390.90) rotate(-90)" x="0" y="0" text-anchor="end" font-size="14.60" textLength="55.60" lengthAdjust="spacingAndGlyphs">2021-11</text>
<text transform="translate(503.82,390.90) rotate(-90)" x="0" y="0" text-anchor="end" font-size="14.60" textLength="55.60" lengthAdjust="spacingAndGlyphs">2021-12</text>
<text transform="translate(531.20,390.90) rotate(-90)" x="0" y="0" text-anchor="end" font-size="14.60" textLength="55.60" lengthAdjust="spacingAndGlyphs">2022-01</text>
<text x="304.70" y="17.10" text-anchor="middle" font-size="15.60" textLength="60.00" lengthAdjust="spacingAndGlyphs">Ontario</text>
<text x="304.70" y="461.30" text-anchor="middle" font-size="14.20" textLength="32.00" lengthAdjust="spacingAndGlyphs">Date</text>
<text transform="translate(15.40,202.60) rotate(-90)" x="0" y="0" text-anchor="middle" font-size="14.40" textLength="73.20" lengthAdjust="spacingAndGlyphs">New Cases</text>
</svg>
</body></html>
